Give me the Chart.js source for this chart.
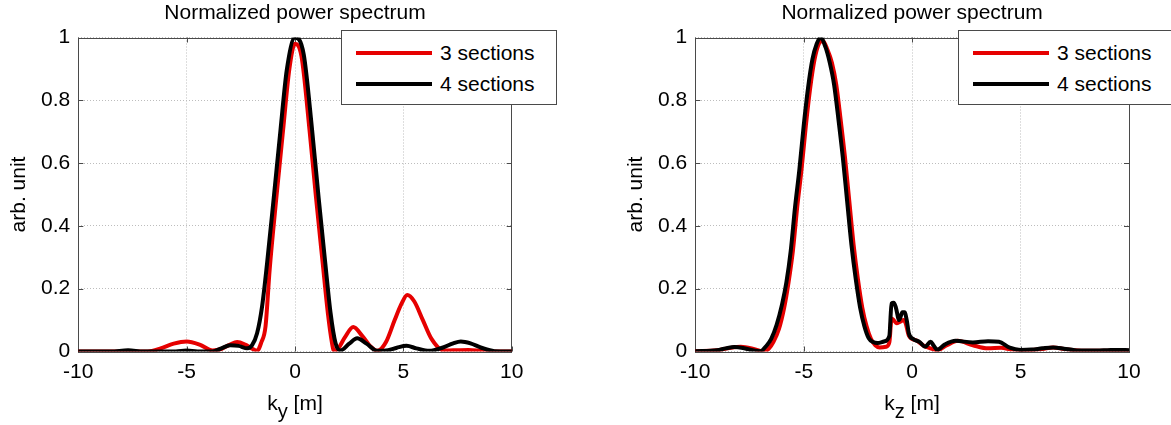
<!DOCTYPE html>
<html>
<head>
<meta charset="utf-8">
<title>Normalized power spectrum</title>
<script src="https://cdn.jsdelivr.net/npm/chart.js@4.4.1/dist/chart.umd.min.js"></script>
<style>
  body { margin: 0; width: 1171px; height: 425px; overflow: hidden; background: #fff;
         font-family: "Liberation Sans", Arial, sans-serif; }
  .panel { position: absolute; top: 0; height: 425px; }
  .xlabel { position: absolute; top: 392px; font-size: 21px; line-height: 1; white-space: nowrap;
            transform: translateX(-50%); color: #000; }
  .xlabel span { font-size: 20px; position: relative; top: 8px; }
  .legend { position: absolute; top: 30px; width: 214px; height: 73px; border: 1px solid #4a4a4a;
            background: #fff; z-index: 2; }
  .legend .row { position: absolute; left: 0; height: 30px; width: 100%; }
  .legend .swatch { position: absolute; left: 14px; width: 76px; height: 4px; }
  .legend .txt { position: absolute; left: 98px; font-size: 21px; line-height: 1; white-space: nowrap; }
</style>
</head>
<body>
<div class="panel" id="leftPanel" style="left:0;width:600px"><canvas id="chartKy" width="600" height="425"></canvas></div>
<div class="panel" id="rightPanel" style="left:617px;width:554px"><canvas id="chartKz" width="554" height="425"></canvas></div>
<div class="xlabel" style="left:295px">k<span>y</span> [m]</div>
<div class="xlabel" style="left:912px">k<span>z</span> [m]</div>
<div class="legend" id="legendKy" style="left:341px"></div>
<div class="legend" id="legendKz" style="left:958px"></div>

<script>
const seriesNames = ["3 sections", "4 sections"];
const seriesColors = ["#e60000", "#000000"];
const yTickValues = [0, 0.2, 0.4, 0.6, 0.8, 1];
const xTickValues = [-10, -5, 0, 5, 10];

// k_y spectrum, 3 sections
const kyX3 = [-10, -7.0, -6.6, -6.2, -5.6, -5.0, -4.4, -3.8, -3.4, -3.0, -2.67, -2.3, -2.0, -1.75, -1.55, -1.36, -1.17, -0.86, -0.55, -0.26, 0, 0.3, 0.67, 0.97, 1.28, 1.52, 1.7, 1.8, 2.0, 2.3, 2.69, 3.1, 3.5, 3.8, 4.2, 4.6, 4.9, 5.18, 5.5, 5.9, 6.3, 6.86, 7.3, 8.0, 8.6, 9.0, 10];
const ky3  = [0, 0, 0.002, 0.01, 0.025, 0.032, 0.022, 0.003, 0.008, 0.022, 0.03, 0.022, 0.01, 0.002, 0.03, 0.08, 0.26, 0.49, 0.705, 0.9, 0.98, 0.94, 0.705, 0.49, 0.28, 0.12, 0.03, 0.002, 0.01, 0.045, 0.078, 0.05, 0.015, 0.002, 0.03, 0.1, 0.15, 0.18, 0.16, 0.1, 0.04, 0.003, 0.004, 0.005, 0.002, 0, 0];
// k_y spectrum, 4 sections
const kyX4 = [-10, -8.5, -7.7, -7.0, -5.5, -5.0, -4.5, -3.8, -3.4, -3.0, -2.6, -2.2, -1.98, -1.75, -1.52, -1.29, -0.98, -0.67, -0.38, 0, 0.4, 0.79, 1.09, 1.4, 1.64, 1.87, 2.1, 2.5, 2.87, 3.3, 3.8, 4.3, 4.7, 5.15, 5.6, 6.2, 6.8, 7.3, 7.65, 8.1, 8.6, 9.2, 10];
const ky4  = [0, 0, 0.004, 0, 0, 0.003, 0, 0, 0.01, 0.02, 0.018, 0.01, 0.02, 0.058, 0.143, 0.28, 0.49, 0.705, 0.896, 1.0, 0.947, 0.705, 0.49, 0.28, 0.123, 0.027, 0.003, 0.025, 0.042, 0.025, 0.002, 0.004, 0.012, 0.018, 0.01, 0.002, 0.012, 0.026, 0.032, 0.026, 0.012, 0.001, 0];

// k_z spectrum, 3 sections
const kzX3 = [-10, -9, -8.5, -7.9, -7.4, -7.0, -6.8, -6.6, -6.4, -6.15, -5.9, -5.7, -5.5, -5.3, -5.1, -4.9, -4.7, -4.5, -4.3, -4.12, -3.9, -3.7, -3.5, -3.3, -3.1, -2.9, -2.7, -2.5, -2.3, -2.1, -1.9, -1.7, -1.5, -1.2, -1.05, -0.95, -0.85, -0.72, -0.55, -0.4, -0.3, -0.15, 0.2, 0.5, 0.85, 1.15, 1.6, 2.1, 2.8, 3.5, 4.1, 4.6, 5.0, 5.5, 6.0, 6.5, 7.0, 7.5, 8.0, 9.0, 10];
const kz3  = [0.001, 0.004, 0.01, 0.015, 0.01, 0.002, 0, 0.01, 0.03, 0.07, 0.14, 0.22, 0.32, 0.46, 0.58, 0.72, 0.84, 0.93, 0.98, 0.99, 0.96, 0.92, 0.85, 0.74, 0.62, 0.48, 0.34, 0.23, 0.14, 0.08, 0.04, 0.02, 0.013, 0.015, 0.03, 0.105, 0.1, 0.09, 0.095, 0.1, 0.09, 0.05, 0.035, 0.02, 0.01, 0.004, 0.02, 0.034, 0.02, 0.01, 0.012, 0.006, 0.005, 0.005, 0.008, 0.013, 0.008, 0.004, 0.002, 0.002, 0.002];
// k_z spectrum, 4 sections
const kzX4 = [-10, -9, -8.6, -8.2, -7.8, -7.3, -7.0, -6.7, -6.5, -6.25, -6.0, -5.8, -5.6, -5.4, -5.2, -5.0, -4.8, -4.6, -4.4, -4.23, -4.0, -3.8, -3.6, -3.4, -3.2, -3.0, -2.8, -2.6, -2.4, -2.2, -2.0, -1.8, -1.6, -1.3, -1.05, -0.95, -0.85, -0.75, -0.6, -0.45, -0.35, -0.25, -0.15, 0.05, 0.35, 0.6, 0.85, 1.0, 1.15, 1.5, 2.0, 2.8, 3.5, 4.0, 4.5, 5.0, 5.5, 6.0, 6.5, 7.0, 7.5, 8.0, 8.5, 9.0, 9.5, 10];
const kz4  = [0.001, 0.004, 0.01, 0.014, 0.011, 0.003, 0.001, 0.02, 0.04, 0.085, 0.15, 0.22, 0.32, 0.46, 0.58, 0.72, 0.84, 0.93, 0.98, 1.0, 0.97, 0.92, 0.85, 0.74, 0.62, 0.48, 0.34, 0.23, 0.14, 0.08, 0.042, 0.03, 0.027, 0.032, 0.05, 0.153, 0.155, 0.14, 0.1, 0.125, 0.125, 0.1, 0.057, 0.04, 0.03, 0.015, 0.031, 0.018, 0.006, 0.022, 0.034, 0.029, 0.033, 0.031, 0.012, 0.005, 0.006, 0.01, 0.013, 0.009, 0.004, 0.003, 0.003, 0.004, 0.005, 0.004];

Chart.defaults.font.family = '"Liberation Sans", Arial, sans-serif';
Chart.defaults.font.size = 21;
Chart.defaults.color = "#000";

// matlab style box with inward ticks
const boxPlugin = {
  id: "box",
  beforeDatasetsDraw(chart) {
    const ctx = chart.ctx;
    const a = chart.chartArea;
    const x = chart.scales.x, y = chart.scales.y;
    ctx.save();
    ctx.strokeStyle = "#4a4a4a";
    ctx.lineWidth = 1;
    ctx.beginPath();
    xTickValues.forEach(v => {
      const px = Math.round(x.getPixelForValue(v)) + 0.5;
      ctx.moveTo(px, a.bottom); ctx.lineTo(px, a.bottom - 5);
      ctx.moveTo(px, a.top); ctx.lineTo(px, a.top + 5);
    });
    yTickValues.forEach(v => {
      const py = Math.round(y.getPixelForValue(v)) + 0.5;
      ctx.moveTo(a.left, py); ctx.lineTo(a.left + 5, py);
      ctx.moveTo(a.right, py); ctx.lineTo(a.right - 5, py);
    });
    ctx.stroke();
    ctx.strokeRect(Math.round(a.left) + 0.5, Math.round(a.top) + 0.5, Math.round(a.width), Math.round(a.height));
    ctx.restore();
  }
};

function toPoints(xs, ys) {
  return xs.map((v, i) => ({ x: v, y: ys[i] }));
}

function makeChart(id, xs3, ys3, xs4, ys4, padRight) {
  const data = {
    datasets: [
      { label: seriesNames[0], data: toPoints(xs3, ys3), borderColor: seriesColors[0], order: 2 },
      { label: seriesNames[1], data: toPoints(xs4, ys4), borderColor: seriesColors[1], order: 1 }
    ]
  };
  data.datasets.forEach(d => {
    d.borderWidth = 4;
    d.pointRadius = 0;
    d.fill = false;
    d.cubicInterpolationMode = "monotone";
    d.borderJoinStyle = "round";
    d.borderCapStyle = "round";
  });

  const config = {
    type: "line",
    data: data,
    options: {
      responsive: false,
      animation: false,
      devicePixelRatio: 1,
      layout: { padding: { left: 0, right: padRight, top: 0, bottom: 0 } },
      plugins: {
        legend: { display: false },
        tooltip: { enabled: false },
        title: {
          display: true,
          text: "Normalized power spectrum",
          fullSize: false,
          font: { size: 21, weight: "normal" },
          padding: { top: 1, bottom: 11.3 }
        }
      },
      scales: {
        x: {
          type: "linear",
          min: -10,
          max: 10,
          afterFit: s => { s.height = 73.5; },
          afterBuildTicks: s => { s.ticks = xTickValues.map(v => ({ value: v })); },
          ticks: { padding: 8, font: { size: 21 } },
          grid: { color: "#bdbdbd", drawTicks: false },
          border: { display: false, dash: [1, 2] }
        },
        y: {
          min: 0,
          max: 1,
          afterFit: s => { s.width = 78.3; },
          afterBuildTicks: s => { s.ticks = yTickValues.map(v => ({ value: v })); },
          ticks: { padding: 8, font: { size: 21 }, callback: v => String(+v.toFixed(1)) },
          grid: { color: "#bdbdbd", drawTicks: false },
          border: { display: false, dash: [1, 2] },
          title: { display: true, text: "arb. unit", font: { size: 21 }, padding: { top: 7, bottom: 0 } }
        }
      }
    },
    plugins: [boxPlugin]
  };
  return new Chart(document.getElementById(id), config);
}

function makeLegend(id) {
  const box = document.getElementById(id);
  const rowTops = [21, 52];
  seriesNames.forEach((name, i) => {
    const row = document.createElement("div");
    row.className = "row";
    row.style.top = rowTops[i] + "px";
    const sw = document.createElement("div");
    sw.className = "swatch";
    sw.style.background = seriesColors[i];
    sw.style.top = "-1px";
    const txt = document.createElement("div");
    txt.className = "txt";
    txt.style.top = "-10px";
    txt.textContent = name;
    row.appendChild(sw);
    row.appendChild(txt);
    box.appendChild(row);
  });
}

makeChart("chartKy", kyX3, ky3, kyX4, ky4, 88.3);
makeChart("chartKz", kzX3, kz3, kzX4, kz4, 42);
makeLegend("legendKy");
makeLegend("legendKz");
</script>
</body>
</html>
